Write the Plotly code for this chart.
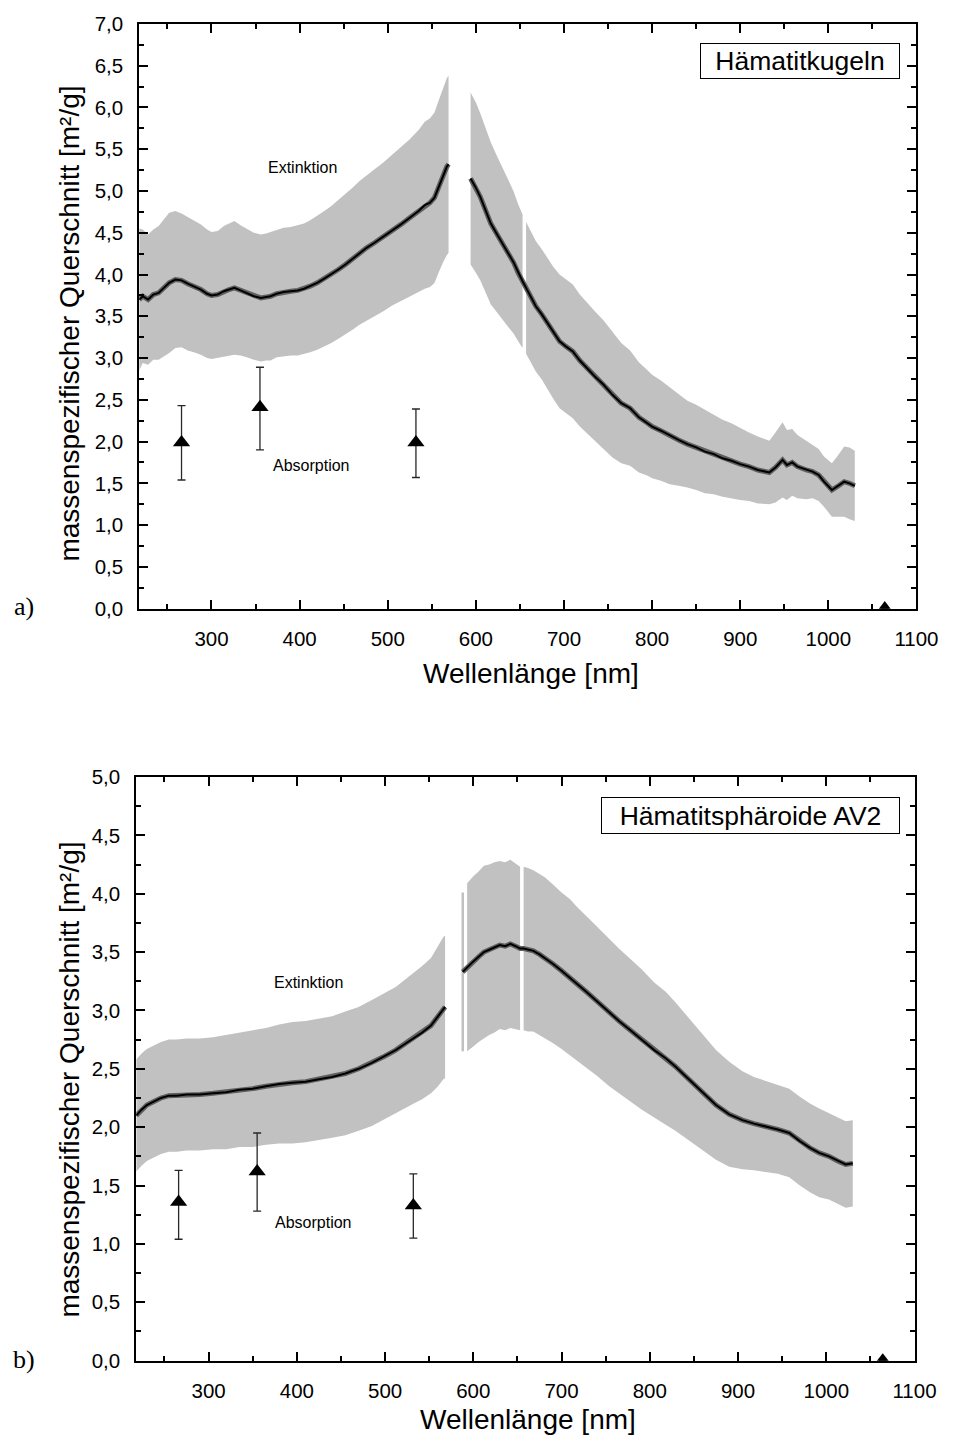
import plotly.graph_objects as go

# ---------------- data ----------------
# Panel a) Hämatitkugeln, extinction (mean and half error), two measured ranges
a_left_nm = [218, 222, 228, 234, 240, 246, 252, 259, 266, 273, 280, 288, 295, 300, 307, 314, 320, 326,
             333, 340, 348, 356, 362, 367, 374, 382, 390, 398, 405, 412, 420, 428, 436, 444, 452, 460,
             468, 476, 485, 495, 505, 515, 525, 535, 542, 548, 553, 558, 563, 567, 569]
a_left_mean = [3.70, 3.74, 3.70, 3.76, 3.78, 3.84, 3.90, 3.94, 3.93, 3.89, 3.86, 3.82, 3.77, 3.75, 3.76,
               3.80, 3.82, 3.84, 3.81, 3.78, 3.74, 3.72, 3.73, 3.74, 3.77, 3.79, 3.80, 3.81, 3.83, 3.86,
               3.90, 3.95, 4.00, 4.06, 4.12, 4.19, 4.26, 4.32, 4.38, 4.45, 4.53, 4.60, 4.68, 4.76, 4.83,
               4.86, 4.92, 5.06, 5.20, 5.29, 5.32]
a_left_err = [0.85, 0.80, 0.78, 0.78, 0.80, 0.82, 0.84, 0.82, 0.80, 0.80, 0.79, 0.78, 0.77, 0.76, 0.76,
              0.78, 0.79, 0.80, 0.78, 0.77, 0.76, 0.76, 0.76, 0.77, 0.76, 0.77, 0.77, 0.78, 0.78, 0.79,
              0.80, 0.81, 0.82, 0.83, 0.84, 0.85, 0.86, 0.87, 0.88, 0.89, 0.90, 0.92, 0.94, 0.97, 1.00,
              1.01, 1.02, 1.03, 1.05, 1.06, 1.06]

a_right_nm = [594, 600, 605, 611, 617, 623, 630, 637, 643, 648, 653, 657, 662, 668, 675, 681, 688, 695,
              702, 710, 718, 726, 735, 745, 755, 765, 775, 785, 795, 800, 810, 820, 830, 840, 850, 860,
              870, 880, 890, 900, 910, 920, 933, 940, 948, 953, 959, 965, 975, 982, 989, 995, 1004, 1010,
              1018, 1024, 1030]
a_right_mean = [5.15, 5.04, 4.93, 4.77, 4.61, 4.50, 4.38, 4.25, 4.14, 4.02, 3.92, 3.84, 3.74, 3.62, 3.52,
                3.42, 3.30, 3.20, 3.14, 3.08, 2.97, 2.88, 2.78, 2.68, 2.56, 2.46, 2.40, 2.29, 2.22, 2.18,
                2.13, 2.07, 2.02, 1.97, 1.93, 1.88, 1.85, 1.80, 1.77, 1.73, 1.70, 1.66, 1.63, 1.69, 1.78,
                1.72, 1.75, 1.70, 1.66, 1.64, 1.60, 1.52, 1.42, 1.46, 1.52, 1.50, 1.47]
a_right_err = [1.03, 1.02, 1.00, 0.99, 0.97, 0.94, 0.91, 0.88, 0.85, 0.82, 0.80, 0.79, 0.78, 0.78, 0.78,
               0.78, 0.79, 0.80, 0.80, 0.80, 0.79, 0.78, 0.78, 0.77, 0.75, 0.72, 0.69, 0.66, 0.63, 0.62,
               0.60, 0.58, 0.55, 0.52, 0.51, 0.50, 0.48, 0.46, 0.45, 0.43, 0.41, 0.40, 0.38, 0.42, 0.45,
               0.42, 0.40, 0.38, 0.35, 0.32, 0.31, 0.30, 0.32, 0.36, 0.42, 0.43, 0.42]

# Panel b) Hämatitsphäroide AV2
b_left_nm = [218, 224, 230, 238, 246, 255, 264, 275, 290, 305, 320, 335, 350, 365, 380, 395, 410, 425,
             440, 455, 470, 485, 500, 512, 522, 532, 542, 552, 560, 566, 568]
b_left_mean = [2.10, 2.15, 2.19, 2.22, 2.25, 2.27, 2.27, 2.28, 2.28, 2.29, 2.30, 2.32, 2.33, 2.35, 2.37,
               2.38, 2.39, 2.41, 2.43, 2.46, 2.50, 2.55, 2.61, 2.66, 2.71, 2.76, 2.81, 2.87, 2.95, 3.02, 3.03]
b_left_err = [0.48, 0.48, 0.48, 0.48, 0.48, 0.48, 0.48, 0.48, 0.48, 0.48, 0.49, 0.49, 0.50, 0.50, 0.51,
              0.52, 0.52, 0.52, 0.52, 0.53, 0.53, 0.54, 0.54, 0.54, 0.55, 0.56, 0.57, 0.58, 0.60, 0.61, 0.61]

b_right_nm = [588, 593, 600, 606, 612, 618, 624, 630, 636, 642, 648, 653, 657, 662, 668, 675, 681, 690,
              700, 710, 717, 728, 740, 754, 765, 778, 791, 805, 818, 829, 840, 850, 862, 875, 890, 905,
              918, 930, 945, 958, 970, 982, 992, 1003, 1013, 1022, 1030]
b_right_mean = [3.33, 3.37, 3.42, 3.46, 3.50, 3.52, 3.54, 3.56, 3.55, 3.57, 3.55, 3.53, 3.53, 3.52, 3.51,
                3.48, 3.45, 3.40, 3.34, 3.28, 3.23, 3.16, 3.08, 2.98, 2.91, 2.83, 2.75, 2.66, 2.59, 2.52,
                2.44, 2.37, 2.28, 2.19, 2.11, 2.06, 2.03, 2.01, 1.98, 1.95, 1.88, 1.82, 1.78, 1.75, 1.71,
                1.68, 1.69]
b_right_err = [0.68, 0.72, 0.73, 0.73, 0.74, 0.73, 0.73, 0.72, 0.72, 0.72, 0.71, 0.70, 0.70, 0.70, 0.69,
               0.69, 0.69, 0.68, 0.67, 0.67, 0.66, 0.65, 0.64, 0.63, 0.62, 0.61, 0.60, 0.58, 0.57, 0.55,
               0.53, 0.51, 0.49, 0.47, 0.45, 0.42, 0.40, 0.39, 0.38, 0.38, 0.38, 0.38, 0.38, 0.37, 0.37,
               0.37, 0.37]

# wavelength ranges without extinction error bars (gaps in the grey band)
a_band_gaps = [(569, 594), (653, 657)]
b_band_gaps = [(588, 593), (653, 657)]

# Absorption (laser wavelengths)
abs_nm = [266, 355, 532, 1064]
a_abs_val = [1.99, 2.41, 1.99, 0.0]
a_abs_hi = [2.43, 2.89, 2.39, 0.0]
a_abs_lo = [1.54, 1.90, 1.57, 0.0]
b_abs_val = [1.36, 1.62, 1.33, 0.0]
b_abs_hi = [1.63, 1.95, 1.60, 0.0]
b_abs_lo = [1.04, 1.28, 1.05, 0.0]

# axis ticks
x_range = [218, 1100]
a_yticks = [0, 0.5, 1, 1.5, 2, 2.5, 3, 3.5, 4, 4.5, 5, 5.5, 6, 6.5, 7]
a_ytext = ["0,0", "0,5", "1,0", "1,5", "2,0", "2,5", "3,0", "3,5", "4,0", "4,5", "5,0", "5,5", "6,0", "6,5", "7,0"]
b_yticks = [0, 0.5, 1, 1.5, 2, 2.5, 3, 3.5, 4, 4.5, 5]
b_ytext = ["0,0", "0,5", "1,0", "1,5", "2,0", "2,5", "3,0", "3,5", "4,0", "4,5", "5,0"]

# ---------------- figure ----------------
W, H = 959, 1445
BAND = "rgb(193,193,193)"
SANS = "Liberation Sans, Arial, sans-serif"
SERIF = "Liberation Serif, DejaVu Serif, serif"


# layout helpers: convert target picture positions to page positions
def px(x):
    return (x + 0.5) / 0.986


def py(y):
    return (y - 8) / 0.988


fig = go.Figure()


def add_panel(xa, ya, segments, gaps, av, ahi, alo):
    for nm, mean, err in segments:
        pieces, cur = [], [0]
        for i in range(1, len(nm)):
            if any(nm[i - 1] <= g0 and nm[i] >= g1 for g0, g1 in gaps):
                pieces.append(cur)
                cur = [i]
            else:
                cur.append(i)
        pieces.append(cur)
        for p in pieces:
            xs = [nm[i] for i in p]
            up = [mean[i] + err[i] for i in p]
            lo = [mean[i] - err[i] for i in p]
            if len(p) == 1:
                fig.add_trace(go.Scatter(
                    x=xs, y=[mean[p[0]]], mode="markers", marker=dict(size=1, color=BAND),
                    error_y=dict(type="data", array=[err[p[0]]], color=BAND, thickness=2.5, width=0),
                    xaxis=xa, yaxis=ya, showlegend=False, hoverinfo="skip"))
            else:
                fig.add_trace(go.Scatter(
                    x=xs + xs[::-1], y=up + lo[::-1], fill="toself", fillcolor=BAND,
                    mode="lines", line=dict(width=0), xaxis=xa, yaxis=ya,
                    showlegend=False, hoverinfo="skip"))
    for nm, mean, err in segments:
        fig.add_trace(go.Scatter(x=nm, y=mean, mode="lines", line=dict(color="rgb(95,95,95)", width=5),
                                 xaxis=xa, yaxis=ya, showlegend=False, hoverinfo="skip"))
        fig.add_trace(go.Scatter(x=nm, y=mean, mode="lines", line=dict(color="black", width=2),
                                 xaxis=xa, yaxis=ya, showlegend=False, name="Extinktion"))
    plus = [h - v for h, v in zip(ahi, av)]
    minus = [v - l for v, l in zip(av, alo)]
    fig.add_trace(go.Scatter(
        x=abs_nm, y=av, mode="markers",
        marker=dict(symbol="triangle-up", size=15, color="black"),
        error_y=dict(type="data", symmetric=False, array=plus, arrayminus=minus,
                     color="rgb(40,40,40)", thickness=1.3, width=4),
        xaxis=xa, yaxis=ya, showlegend=False, name="Absorption"))


add_panel("x", "y", [(a_left_nm, a_left_mean, a_left_err), (a_right_nm, a_right_mean, a_right_err)],
          a_band_gaps, a_abs_val, a_abs_hi, a_abs_lo)
add_panel("x2", "y2", [(b_left_nm, b_left_mean, b_left_err), (b_right_nm, b_right_mean, b_right_err)],
          b_band_gaps, b_abs_val, b_abs_hi, b_abs_lo)


def xaxis(dom, anchor):
    return dict(domain=dom, anchor=anchor, range=x_range, tickmode="linear", tick0=0, dtick=100,
                showline=True, linecolor="black", linewidth=2, mirror="allticks",
                ticks="inside", ticklen=9, tickwidth=2, tickcolor="black",
                minor=dict(ticks="inside", ticklen=5, tickwidth=2, tickcolor="black",
                           tickmode="linear", tick0=0, dtick=50),
                showgrid=False, zeroline=False, ticklabelstandoff=11,
                tickfont=dict(family=SANS, size=20.5, color="black"))


def yaxis(dom, anchor, rng, tv, tt):
    return dict(domain=dom, anchor=anchor, range=rng, tickmode="array", tickvals=tv, ticktext=tt,
                showline=True, linecolor="black", linewidth=2, mirror="allticks",
                ticks="inside", ticklen=9, tickwidth=2, tickcolor="black",
                minor=dict(ticks="inside", ticklen=5, tickwidth=2, tickcolor="black",
                           tickmode="linear", tick0=0, dtick=0.25),
                showgrid=False, zeroline=False, ticklabelstandoff=10,
                tickfont=dict(family=SANS, size=20.5, color="black"))


X_RIGHT = 938  # keeps the "1100" label inside the page
fig.update_layout(
    width=W, height=H, margin=dict(l=0, r=0, t=0, b=0),
    paper_bgcolor="white", plot_bgcolor="white", showlegend=False,
    xaxis=xaxis([px(140) / W, X_RIGHT / W], "y"),
    yaxis=yaxis([1 - py(607) / H, 1 - py(20) / H], "x", [0, 7], a_yticks, a_ytext),
    xaxis2=xaxis([px(137) / W, (X_RIGHT - 2) / W], "y2"),
    yaxis2=yaxis([1 - py(1362) / H, 1 - py(776) / H], "x2", [0, 5], b_yticks, b_ytext),
)


def ann(text, x, y, size, family=SANS, **kw):
    d = dict(text=text, x=px(x) / W, y=1 - py(y) / H, xref="paper", yref="paper", showarrow=False,
             font=dict(family=family, size=size, color="black"), xanchor="center", yanchor="middle")
    d.update(kw)
    fig.add_annotation(**d)


ytitle = "massenspezifischer Querschnitt [m²/g]"
ann(ytitle, 70, 321, 28, textangle=-90)
ann(ytitle, 70, 1080, 28, textangle=-90)
ann("Wellenlänge [nm]", 535, 672, 28)
ann("Wellenlänge [nm]", 532, 1421, 28)
ann("Extinktion", 305, 164, 16)
ann("Absorption", 314, 463, 16)
ann("Extinktion", 311, 982, 16)
ann("Absorption", 316, 1223, 16)
ann("a)", 24, 605, 26, family=SERIF)
ann("b)", 24, 1361, 26, family=SERIF)
ann("Hämatitkugeln", 807, 57.5, 26.5, bordercolor="black", borderwidth=1, borderpad=0,
    width=198, height=34, bgcolor="white")
ann("Hämatitsphäroide AV2", 757, 814.5, 26.5, bordercolor="black", borderwidth=1, borderpad=0,
    width=297, height=35, bgcolor="white")

post = ("document.documentElement.style.margin='0';document.body.style.margin='0';"
        "document.documentElement.style.overflow='hidden';document.body.style.overflow='hidden';"
        "var gd=document.getElementById('{plot_id}');"
        "gd.style.position='fixed';gd.style.left='0px';gd.style.top='0px';")

fig.write_html("out.html", config={"displayModeBar": False}, post_script=post)
